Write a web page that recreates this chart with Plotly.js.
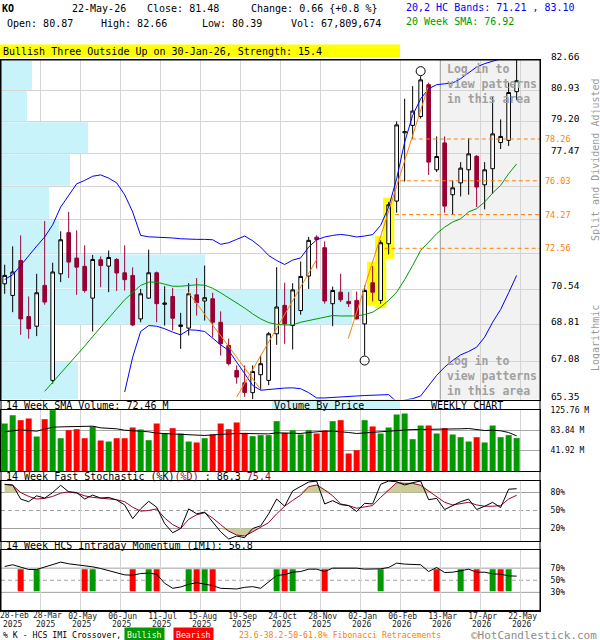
<!DOCTYPE html>
<html><head><meta charset="utf-8">
<script src="https://cdn.plot.ly/plotly-3.0.1.min.js"></script>
<style>body{margin:0;background:#fff}#chart{width:600px;height:640px}</style>
</head><body><div id="chart"></div>
<script>
// ---------- DATA ----------
const tickDates = ["28-Feb","28-Mar","02-May","06-Jun","11-Jul","15-Aug","19-Sep","24-Oct","28-Nov","02-Jan","06-Feb","13-Mar","17-Apr","22-May"];
const tickYears = ["2025","2025","2025","2025","2025","2025","2025","2025","2025","2026","2026","2026","2026","2026"];
const tickWeek = [0,4,9,14,19,24,29,34,39,44,49,54,59,64];

const open = [70.80,70.23,71.95,69.21,68.75,70.72,66.22,71.29,73.35,72.07,
  71.66,70.10,71.99,71.67,72.00,71.34,71.21,69.10,70.10,71.34,
  69.80,70.18,68.74,68.66,70.26,69.96,70.07,68.94,67.84,66.68,
  66.11,65.66,66.48,66.22,68.39,69.75,68.78,69.50,71.18,73.12,
  72.59,69.83,70.39,69.94,69.99,68.86,70.85,69.99,72.79,74.97,
  78.60,79.00,79.49,81.26,76.61,78.05,75.30,75.92,76.61,77.33,
  75.82,76.67,78.07,78.19,80.87];
const high = [71.74,72.66,73.21,70.18,71.29,73.94,71.84,73.42,74.41,73.47,
  72.71,72.23,72.15,72.45,72.07,72.71,71.61,70.55,72.49,71.40,
  70.68,70.60,69.39,70.83,71.08,71.70,70.36,69.46,68.16,66.91,
  66.91,66.91,67.37,68.47,71.62,70.85,70.83,71.90,73.13,73.22,
  72.91,70.66,71.29,70.39,70.42,70.72,71.67,72.96,74.92,79.22,
  80.47,81.18,81.74,81.37,78.40,78.40,76.05,77.02,78.31,77.40,
  77.02,80.56,79.33,81.37,82.66];
const low = [70.31,69.42,68.34,68.16,68.28,69.78,66.07,70.88,71.08,70.26,
  70.36,68.50,70.63,70.39,70.45,70.47,68.75,68.94,70.07,68.94,
  68.78,68.55,67.68,68.31,69.26,69.02,68.23,67.37,66.91,66.07,
  65.47,65.36,65.80,66.00,67.87,67.92,67.65,69.30,70.55,71.55,
  69.83,68.75,69.91,69.67,69.07,67.37,69.94,69.83,72.25,74.37,
  75.99,78.28,79.37,76.34,76.49,74.37,74.26,75.21,75.30,74.66,
  74.54,75.35,77.72,77.89,80.39];
const close = [71.21,71.38,69.10,68.63,70.36,69.91,71.38,72.99,71.87,71.62,
  70.47,72.00,71.70,72.10,71.33,71.00,68.81,70.31,71.34,69.83,
  69.86,69.13,68.81,70.31,69.88,70.12,68.94,67.92,66.99,66.37,
  65.67,66.63,66.99,68.39,69.67,68.86,70.50,71.16,72.96,73.00,
  69.96,70.47,70.02,69.83,69.10,70.47,70.39,72.84,74.78,79.03,
  78.66,79.79,81.53,77.02,77.32,74.71,75.66,76.70,77.46,75.70,
  76.61,78.54,78.40,80.82,81.48];
const lastVolumeText = "67,809,674";

const sma20 = [null,null,null,null,null,65.72,66.13,66.53,66.94,67.37,
  67.81,68.26,68.71,69.15,69.58,70.02,70.39,70.72,70.88,70.88,
  70.78,70.68,70.68,70.72,70.75,70.73,70.58,70.36,70.12,69.88,
  69.62,69.34,69.10,68.92,68.84,68.81,68.81,68.94,69.02,69.10,
  69.18,69.26,69.24,69.23,69.24,69.31,69.42,69.67,69.99,70.39,
  71.00,71.70,72.45,72.87,73.30,73.63,73.89,74.06,74.41,74.58,
  74.92,75.39,75.79,76.40,76.92];
const upperBand = [71.01,71.24,71.70,72.20,72.67,73.13,73.75,74.66,75.23,75.87,
  76.05,76.27,76.34,76.17,75.92,75.30,74.41,73.21,73.14,73.13,
  73.11,73.08,73.04,73.01,73.01,73.01,72.99,72.76,72.84,73.01,
  73.18,72.94,72.62,72.20,71.95,71.75,71.97,72.08,72.62,72.99,
  73.13,73.21,73.26,73.21,73.13,73.18,73.25,73.72,74.66,76.14,
  78.09,79.55,80.47,81.03,81.26,81.31,81.35,81.60,81.94,82.26,
  82.45,82.58,82.73,82.95,83.10];
const lowerBand = [null,null,null,null,null,null,null,null,null,null,
  null,null,null,null,null,65.69,67.29,68.50,68.78,68.75,
  68.63,68.47,68.34,68.58,68.56,68.50,68.19,67.87,67.61,67.06,
  66.53,65.99,65.77,65.81,65.84,65.87,65.88,65.84,65.66,65.42,
  65.42,65.45,65.47,65.48,65.51,65.53,65.54,65.56,65.57,65.25,
  65.32,65.39,65.51,65.99,66.45,66.83,67.14,67.40,67.56,67.76,
  68.23,68.94,69.55,70.36,71.21];

const volume = [97.9,115.0,104.8,108.2,71.1,106.8,125.5,67.6,84.1,86.2,
  67.6,91.8,62.9,60.8,67.6,67.6,89.7,85.6,63.5,97.9,
  77.3,88.3,77.3,60.8,58.8,67.6,75.3,97.9,86.2,100.0,
  78.7,71.8,73.9,73.9,102.7,78.7,84.1,75.3,84.1,77.3,
  83.4,102.7,104.8,36.1,42.9,104.8,91.8,77.3,89.7,116.5,
  118.5,65.6,93.8,93.8,77.3,88.3,75.3,69.7,60.8,69.7,
  58.8,93.8,69.7,73.9,67.81];
const volumeSMA = [80.8,83.5,84.9,83.5,82.1,86.2,90.3,91.0,91.0,91.0,
  91.8,92.4,89.0,88.3,87.0,84.1,82.9,82.1,80.8,78.0,
  77.3,77.0,75.9,75.3,73.9,73.2,74.6,75.9,77.3,77.3,
  77.3,77.0,75.9,76.5,78.7,78.0,77.3,77.3,79.4,81.4,
  82.1,82.1,81.4,79.4,77.3,78.7,80.1,81.4,82.9,84.1,
  84.9,85.6,85.6,85.6,85.6,85.6,86.2,87.0,87.6,85.6,
  83.5,84.1,82.9,79.4,72.46];

const vbpEdges = [82.66,80.93,79.20,77.47,75.74,74.01,72.28,70.54,68.81,67.08,65.35];
const vbpVolume = [155,130,435,345,240,290,1020,1755,265,385];
const vbpFullWidthVolume = 2695;

const stochK = [93.6,92.5,69.1,64.7,74.5,70.7,80.0,92.0,81.1,80.0,
  69.1,75.6,70.7,71.8,67.5,59.3,36.4,52.7,65.3,55.5,
  28.2,12.9,20.0,52.7,44.5,47.3,30.9,14.5,2.5,7.5,
  4.7,20.0,24.4,44.5,69.1,57.1,82.7,89.8,97.5,99.1,
  60.9,66.4,59.8,58.2,48.4,62.0,60.9,93.6,99.1,98.0,
  92.5,96.4,99.1,68.0,70.2,51.6,58.2,64.7,69.1,51.6,
  57.1,63.6,54.9,85.5,86.3];
const stochD = [93.6,92.0,80.0,73.5,69.1,70.2,73.5,78.9,81.1,78.9,
  74.5,71.8,70.7,69.6,68.0,64.7,55.5,48.9,50.0,52.7,
  37.5,26.5,20.0,35.3,42.9,46.2,37.5,26.5,15.6,9.1,
  7.5,14.5,22.2,29.8,44.5,57.1,66.9,75.6,89.8,92.5,
  84.4,74.5,60.9,58.2,53.8,55.5,58.2,71.8,84.4,96.4,
  95.3,95.3,92.0,82.7,73.5,63.6,59.3,60.9,63.6,59.3,
  57.1,57.1,58.2,69.1,75.4];

const imi = [72.8,75.6,71.7,67.8,67.8,71.7,76.7,80.0,77.2,75.6,
  73.3,72.2,69.4,66.1,62.2,58.9,58.3,61.1,61.7,60.0,
  45.0,36.7,38.9,43.3,46.1,43.9,41.1,36.7,35.6,35.6,
  38.3,39.4,36.7,47.8,57.8,59.4,63.3,64.4,68.3,68.3,
  64.4,70.0,70.0,69.4,70.0,68.3,68.3,68.9,71.1,78.3,
  76.7,76.7,75.6,64.4,71.1,62.8,63.3,65.6,68.3,63.3,
  63.3,60.6,60.0,57.2,56.8];
const bullishCross = [4,11,18,23,25,34,36,47,57,61,63];
const bearishCross = [2,10,16,19,24,26,35,40,54,59,62];
const crossLow = 32, crossHigh = 68;

const fibLevels = [78.26,76.03,74.27,72.56];
const fibStartWeek = [50.9,49.4,48.8,47.5];
const trendWeeks = [[22.95,31.9],[29,39],[42.95,52.9]];
const trendPrices = [[70.39,65.85],[65.46,72.00],[68.16,81.10]];
const patternWeeks = [46,47,48];
const pivotHighWeeks = [52];
const pivotLowWeeks = [45];
const priceGrid = [65.35,67.08,68.81,70.54,72.28,74.01,75.74,77.47,79.20,80.93,82.66];
const priceGridText = ["65.35","67.08","68.81","70.54","","","","77.47","79.20","80.93","82.66"];
const lockedFromWeek = 54;

// ---------- BUILD ----------
const MONO = "DejaVu Sans Mono";
const NB = '\u00a0';
const n = close.length;
const week = close.map((_, i) => i);
const xr = [-0.46, 66.92];
const XD = [1/600, 540/600];
const P = v => 1 - v/640;
const gridX = tickWeek.slice(1).map(w => w + 0.45);
const maroon = '#990033', green = '#009900', red = '#ff0000', orange = '#ff8000';
const pMin = vbpEdges[vbpEdges.length-1], pMax = vbpEdges[0];
const vbpScale = (xr[1] - xr[0]) / vbpFullWidthVolume;
const vbpMid = vbpVolume.map((_, i) => (vbpEdges[i] + vbpEdges[i+1]) / 2);
const vbpThick = vbpVolume.map((_, i) => (vbpEdges[i] - vbpEdges[i+1]) - 0.05);

const skip = {hoverinfo:'skip', showlegend:false};
const traces = [];
// volume-by-price (horizontal bars, drawn below the candles)
traces.push(Object.assign({type:'bar', orientation:'h', y:vbpMid, x:vbpVolume.map(v => v * vbpScale), base:xr[0],
  width:vbpThick, xaxis:'x', yaxis:'y', marker:{color:'#c9f3fb', line:{width:0}}}, skip));
// pattern highlight bars
traces.push(Object.assign({type:'bar', x:patternWeeks, base:patternWeeks.map(k => low[k] / 1.003),
  y:patternWeeks.map(k => high[k] * 1.003 - low[k] / 1.003), width:1.4, xaxis:'x', yaxis:'y',
  marker:{color:'#ffff00', line:{width:0}}}, skip));
traces.push(Object.assign({type:'scatter', x:[lockedFromWeek + 0.45, lockedFromWeek + 0.45], y:[pMin, pMax], xaxis:'x', yaxis:'y',
  mode:'lines', line:{color:'#a0a0a0', width:1}}, skip));
traces.push(Object.assign({type:'scatter', x:week, y:upperBand, xaxis:'x', yaxis:'y', mode:'lines', line:{color:'#0000ff', width:1}}, skip));
traces.push(Object.assign({type:'scatter', x:week, y:lowerBand, xaxis:'x', yaxis:'y', mode:'lines', line:{color:'#0000ff', width:1}}, skip));
traces.push(Object.assign({type:'scatter', x:week, y:sma20, xaxis:'x', yaxis:'y', mode:'lines', line:{color:green, width:1}}, skip));
fibLevels.forEach((lv, i) => traces.push(Object.assign({type:'scatter', x:[fibStartWeek[i], xr[1]], y:[lv, lv], xaxis:'x', yaxis:'y',
  mode:'lines', line:{color:orange, width:1, dash:'4px,3px'}}, skip)));
trendWeeks.forEach((tw, i) => traces.push(Object.assign({type:'scatter', x:tw, y:trendPrices[i], xaxis:'x', yaxis:'y',
  mode:'lines', line:{color:orange, width:1}}, skip)));
traces.push(Object.assign({type:'candlestick', x:week, open, high, low, close, xaxis:'x', yaxis:'y',
  increasing:{line:{color:'#000', width:1}, fillcolor:'#ffffff'},
  decreasing:{line:{color:maroon, width:1}, fillcolor:maroon}, whiskerwidth:0}, skip));
traces.push(Object.assign({type:'scatter', xaxis:'x', yaxis:'y', mode:'markers',
  x: pivotHighWeeks.concat(pivotLowWeeks),
  y: pivotHighWeeks.map(k => high[k]*Math.exp(5/1442)).concat(pivotLowWeeks.map(k => low[k]*Math.exp(-5/1442))),
  marker:{symbol:'circle-open', size:9, color:'#000', line:{width:1}}}, skip));

// volume
traces.push(Object.assign({type:'bar', x:week, y:volume, xaxis:'x2', yaxis:'y2', width:0.75,
  marker:{color: close.map((c, i) => c >= open[i] ? green : red), line:{width:0}}}, skip));
traces.push(Object.assign({type:'scatter', x:week, y:volumeSMA, xaxis:'x2', yaxis:'y2', mode:'lines', line:{color:'#000', width:1}}, skip));

// stochastic
const hid = {width:0, color:'rgba(0,0,0,0)'};
traces.push(Object.assign({type:'scatter', x:week, y:week.map(() => 80), xaxis:'x3', yaxis:'y3', mode:'lines', line:hid}, skip));
traces.push(Object.assign({type:'scatter', x:week, y:stochD.map(v => Math.max(v, 80)), xaxis:'x3', yaxis:'y3', mode:'lines', fill:'tonexty', fillcolor:'#cccc99', line:hid}, skip));
traces.push(Object.assign({type:'scatter', x:week, y:week.map(() => 20), xaxis:'x3', yaxis:'y3', mode:'lines', line:hid}, skip));
traces.push(Object.assign({type:'scatter', x:week, y:stochD.map(v => Math.min(v, 20)), xaxis:'x3', yaxis:'y3', mode:'lines', fill:'tonexty', fillcolor:'#cccc99', line:hid}, skip));
traces.push(Object.assign({type:'scatter', x:week, y:stochD, xaxis:'x3', yaxis:'y3', mode:'lines', line:{color:maroon, width:1}}, skip));
traces.push(Object.assign({type:'scatter', x:week, y:stochK, xaxis:'x3', yaxis:'y3', mode:'lines', line:{color:'#000', width:1}}, skip));

// IMI
traces.push(Object.assign({type:'bar', x:bullishCross, y:bullishCross.map(() => crossHigh - crossLow), base:crossLow, xaxis:'x4', yaxis:'y4', width:0.75, marker:{color:green, line:{width:0}}}, skip));
traces.push(Object.assign({type:'bar', x:bearishCross, y:bearishCross.map(() => crossHigh - crossLow), base:crossLow, xaxis:'x4', yaxis:'y4', width:0.75, marker:{color:red, line:{width:0}}}, skip));
traces.push(Object.assign({type:'scatter', x:week, y:imi, xaxis:'x4', yaxis:'y4', mode:'lines', line:{color:'#000', width:1}}, skip));

const timeAxis = () => ({domain:XD, range:xr, tickvals:gridX, showgrid:true, gridcolor:'#d4d4d4', gridwidth:1,
  zeroline:false, showline:true, mirror:true, linecolor:'#000', linewidth:1, ticks:'', showticklabels:false, fixedrange:true});
const rightAxis = () => ({side:'right', showline:true, mirror:true, linecolor:'#000', linewidth:1, ticks:'', zeroline:false,
  ticklabelstandoff:8, tickfont:{family:MONO, size:8, color:'#000'}, fixedrange:true});

const ann = (x, y, text, o = {}) => Object.assign({xref:'paper', yref:'paper', x:x/600, y:P(y), text, showarrow:false,
  xanchor:'left', yanchor:'middle', font:{family:MONO, size:10, color:'#000'}}, o);

const lastC = close[n-1], chg = lastC - close[n-2];
const grayBold = {family:MONO, size:11.5, color:'#a0a0a0'};
const tickFont = {family:MONO, size:8, color:'#222'};
const annotations = [
  ann(0, 9, '<b>KO</b>'),
  ann(70, 9, '22-May-26'),
  ann(145, 9, 'Close: ' + lastC.toFixed(2)),
  ann(249, 9, 'Change: ' + chg.toFixed(2) + ' {+' + (chg/close[n-2]*100).toFixed(1) + ' %}'),
  ann(5, 24, 'Open: ' + open[n-1].toFixed(2)),
  ann(99, 24, 'High: ' + high[n-1].toFixed(2)),
  ann(200, 24, 'Low: ' + low[n-1].toFixed(2)),
  ann(289, 24, 'Vol: ' + lastVolumeText),
  ann(404, 7, '20,2 HC Bands: ' + lowerBand[n-1].toFixed(2) + ' , ' + upperBand[n-1].toFixed(2), {font:{family:MONO, size:10, color:'#0000ff'}}),
  ann(404, 21, '20 Week SMA: ' + sma20[n-1].toFixed(2), {font:{family:MONO, size:10, color:green}}),
  ann(1, 51, 'Bullish Three Outside Up on 30-Jan-26, Strength: 15.4'),
  ann(445, 60, '<b>Log in to<br>view patterns<br>in this area</b>', {yanchor:'top', align:'left', font:grayBold}),
  ann(445, 351.5, '<b>Log in to<br>view patterns<br>in this area</b>', {yanchor:'top', align:'left', font:grayBold}),
  ann(595, 160, 'Split and Dividend Adjusted', {xanchor:'center', textangle:-90, font:{family:MONO, size:10, color:'#999'}}),
  ann(595, 338, 'Logarithmic', {xanchor:'center', textangle:-90, font:{family:MONO, size:10, color:'#999'}}),
  ann(4, 405.5, '14 Week SMA Volume: ' + volumeSMA[n-1].toFixed(2) + ' M'),
  ann(272, 405.5, 'Volume By Price'),
  ann(429, 405.5, 'WEEKLY CHART'),
  ann(4, 476, '14 Week Fast Stochastic (%K)<span style="color:' + maroon + '">(%D)</span> : ' + stochK[n-1].toFixed(1) + ' <span style="color:' + maroon + '">' + stochD[n-1].toFixed(1) + '</span>'),
  ann(4, 545.5, '14 Week HCS Intraday Momentum (IMI): ' + imi[n-1].toFixed(1)),
  ann(-1, 615, tickDates[0], {font:tickFont, borderpad:0}),
  ann(32, 615, tickDates[1], {font:tickFont, borderpad:0}),
  ann(2, 624, tickYears[0], {font:tickFont, borderpad:0}),
  ann(1, 634.5, '% K - HCS IMI Crossover,', {font:{family:MONO, size:8.2, color:'#000'}}),
  ann(144, 634.5, 'Bullish', {xanchor:'center', bgcolor:green, borderpad:2, font:{family:MONO, size:8.2, color:'#fff'}}),
  ann(194, 634.5, 'Bearish', {xanchor:'center', bgcolor:red, borderpad:2, font:{family:MONO, size:8.2, color:'#fff'}}),
  ann(237, 634.5, '23.6-38.2-50-61.8% Fibonacci Retracements', {font:{family:MONO, size:8.2, color:orange}}),
  ann(598, 635, '©HotCandlestick.com', {xanchor:'right', borderpad:0, font:{family:MONO, size:11, color:'#8c8c8c'}})
];
tickYears.slice(1).forEach((yr, i) => annotations.push({xref:'x4', yref:'paper', x:gridX[i] + (i === 0 ? 0.6 : 0.15),
  y:P(624), text:yr, showarrow:false, xanchor:'center', yanchor:'middle', borderpad:0, font:tickFont}));
fibLevels.forEach(lv => annotations.push({xref:'paper', yref:'y', x:543/600, y:Math.log10(lv), text:lv.toFixed(2),
  showarrow:false, xanchor:'left', yanchor:'middle', font:{family:MONO, size:8.5, color:orange}}));

const hline = (ax, v, dash) => ({type:'line', xref:'x' + ax + ' domain', yref:'y' + ax, x0:0, x1:1, y0:v, y1:v,
  line:{color:'#a0a0a0', width:1, dash: dash ? '4px,3px' : 'solid'}, layer:'below'});
const shapes = [
  {type:'rect', xref:'x', yref:'y domain', x0:lockedFromWeek + 0.45, x1:xr[1], y0:0, y1:1, fillcolor:'#f2f2f2', line:{width:0}, layer:'below'},
  {type:'rect', xref:'paper', yref:'paper', x0:0, x1:400/600, y0:P(57.5), y1:P(44.5), fillcolor:'#ffff00', line:{width:0}, layer:'below'},
  {type:'rect', xref:'paper', yref:'paper', x0:272/600, x1:400/600, y0:P(410), y1:P(399.5), fillcolor:'#c9f3fb', line:{width:0}, layer:'below'},
  {type:'rect', xref:'paper', yref:'paper', x0:1/600, x1:540/600, y0:P(610.5), y1:P(60), line:{color:'#000', width:1}, layer:'above'},
  hline(3, 80), hline(3, 20), hline(3, 50, true),
  hline(4, 70), hline(4, 30), hline(4, 50, true)
];

const layout = {
  width:600, height:640, margin:{l:0, r:0, t:0, b:0, pad:0},
  paper_bgcolor:'#fff', plot_bgcolor:'#fff', showlegend:false, boxgap:0.35, barmode:'overlay',
  font:{family:MONO, size:10, color:'#000'},
  xaxis:Object.assign(timeAxis(), {anchor:'y', rangeslider:{visible:false}}),
  yaxis:Object.assign(rightAxis(), {domain:[P(399.5), P(60)], anchor:'x', type:'log',
    range:[Math.log10(pMin), Math.log10(pMax)],
    tickvals:priceGrid, ticktext:priceGridText, showgrid:true, gridcolor:'#d4d4d4',
    tickfont:{family:MONO, size:9.5, color:'#000'}, ticklabelshift:-3}),
  xaxis2:Object.assign(timeAxis(), {anchor:'y2'}),
  yaxis2:Object.assign(rightAxis(), {domain:[P(471), P(410)], anchor:'x2', range:[0, 125.76],
    tickvals:[41.92, 83.84, 125.76], ticktext:['41.92 M','83.84 M','125.76 M'], showgrid:true, gridcolor:'#a8a8a8'}),
  xaxis3:Object.assign(timeAxis(), {anchor:'y3'}),
  yaxis3:Object.assign(rightAxis(), {domain:[P(540.5), P(480.5)], anchor:'x3', range:[0, 100],
    tickvals:[20, 50, 80], ticktext:['20%','50%','80%'], showgrid:false}),
  xaxis4:Object.assign(timeAxis(), {anchor:'y4', showticklabels:true, ticklabelstandoff:-2,
    ticktext:tickDates.slice(1).map((d, i) => i === 0 ? '' : NB + d), tickfont:tickFont}),
  yaxis4:Object.assign(rightAxis(), {domain:[P(610.5), P(550)], anchor:'x4', range:[0, 100],
    tickvals:[30, 50, 70], ticktext:['30%','50%','70%'], showgrid:false}),
  annotations, shapes
};

Plotly.newPlot('chart', traces, layout, {staticPlot:true, displayModeBar:false});
</script>
</body></html>
